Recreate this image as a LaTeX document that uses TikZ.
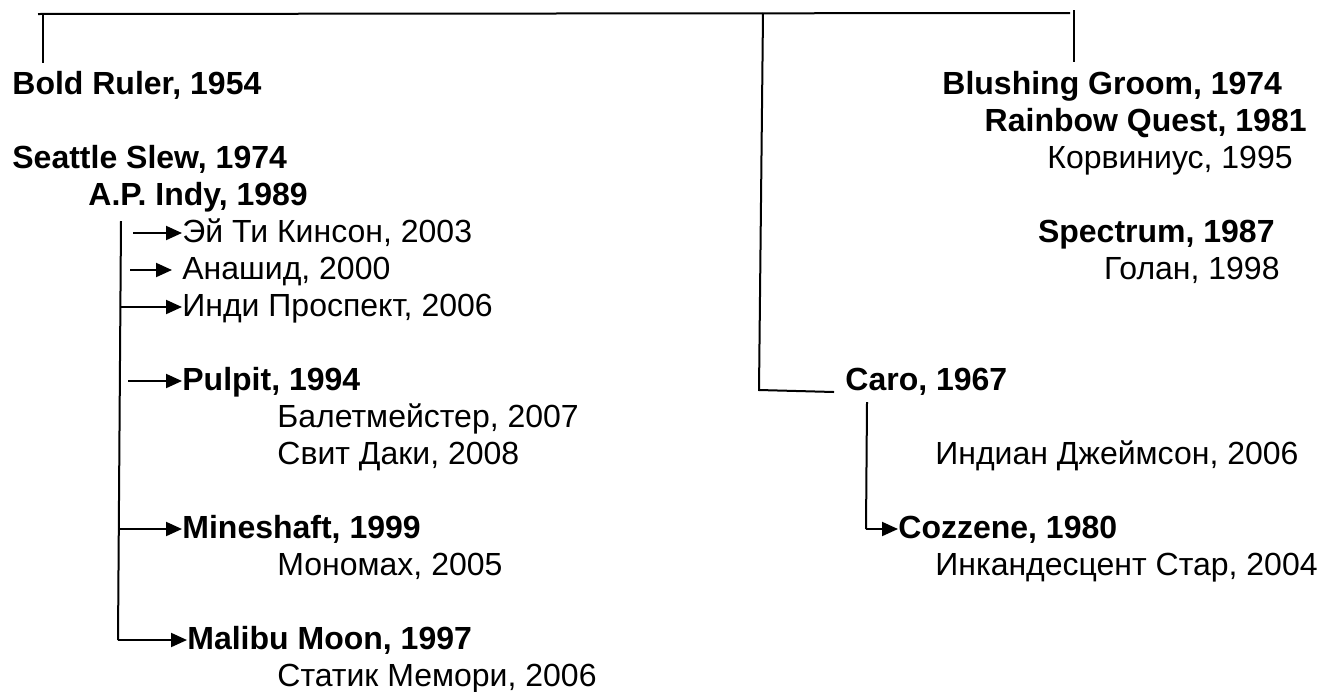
\documentclass[tikz,border=0pt]{standalone}
\usepackage{fontspec}
\setmainfont{Liberation Sans}
\usetikzlibrary{arrows.meta}

\tikzset{
  sire/.style={anchor=base west, inner sep=0pt, font=\fontsize{16}{19}\selectfont\bfseries},
  foal/.style={anchor=base west, inner sep=0pt, font=\fontsize{16}{19}\selectfont},
  sireR/.style={sire, anchor=base east},
  foalR/.style={foal, anchor=base east},
  line/.style={line width=1pt},
  toarrow/.style={line width=1pt, -{Triangle[length=8pt,width=7pt]}}
}

\begin{document}
\begin{tikzpicture}[x=0.5pt,y=-0.5pt]
  \useasboundingbox (0,0) rectangle (1321,691);
  % left branch
  \node[sire] (boldruler) at (12,94) {Bold Ruler, 1954};
  \node[sire] (seattle) at (12,168) {Seattle Slew, 1974};
  \node[sire] (apindy) at (88,205) {A.P. Indy, 1989};
  \node[foal] (kinson) at (182,242) {Эй Ти Кинсон, 2003};
  \node[foal] (anashid) at (182,279) {Анашид, 2000};
  \node[foal] (prospect) at (182,316) {Инди Проспект, 2006};
  \node[sire] (pulpit) at (182,390) {Pulpit, 1994};
  \node[foal] (balet) at (277,427) {Балетмейстер, 2007};
  \node[foal] (daki) at (277,464) {Свит Даки, 2008};
  \node[sire] (mineshaft) at (182,538) {Mineshaft, 1999};
  \node[foal] (monomakh) at (277,575) {Мономах, 2005};
  \node[sire] (malibu) at (187,649) {Malibu Moon, 1997};
  \node[foal] (statik) at (277,686) {Статик Мемори, 2006};
  % right branch
  \node[sire] (blushing) at (942,94) {Blushing Groom, 1974};
  \node[sireR] (rainbow) at (1307,131) {Rainbow Quest, 1981};
  \node[foalR] (korvinius) at (1293,168) {Корвиниус, 1995};
  \node[sireR] (spectrum) at (1275,242) {Spectrum, 1987};
  \node[foalR] (golan) at (1280,279) {Голан, 1998};
  \node[sire] (caro) at (845,390) {Caro, 1967};
  \node[foal] (indian) at (935,464) {Индиан Джеймсон, 2006};
  \node[sire] (cozzene) at (898,538) {Cozzene, 1980};
  \node[foal] (incand) at (935,575) {Инкандесцент Стар, 2004};

  % top bracket
  \coordinate (topl) at (38,14);
  \coordinate (topr) at (1070,13);
  \coordinate (stubl) at (43,63);
  \coordinate (stubr) at (1074,62);
  \coordinate (midtop) at (763,13);
  \coordinate (midbot) at (759,390);
  \coordinate (caroin) at (834,392);
  \draw[line] (topl) -- (topr);
  \draw[line] (stubl |- topl) -- (stubl);
  \draw[line] (1074,10) -- (stubr);
  \draw[line] (midtop) -- (midbot) -- (caroin);

  % A.P. Indy
  \coordinate (indytop) at (121,221);
  \coordinate (indybot) at (118,640);
  \draw[line] (indytop) -- (indybot);
  \coordinate (a1) at (133,233);
  \coordinate (a2) at (130,270);
  \coordinate (a3) at (120,307);
  \coordinate (a4) at (128,381);
  \coordinate (a5) at (119,529);
  \draw[toarrow] (a1) -- (a1 -| kinson.west);
  \draw[toarrow] (a2) -- (172,270);
  \draw[toarrow] (a3) -- (a3 -| prospect.west);
  \draw[toarrow] (a4) -- (a4 -| pulpit.west);
  \draw[toarrow] (a5) -- (a5 -| mineshaft.west);
  \draw[toarrow] (indybot) -- (indybot -| malibu.west);

  % Caro
  \coordinate (carotop) at (867,402);
  \coordinate (carobot) at (866,529);
  \draw[line] (carotop) -- (carobot);
  \draw[toarrow] (carobot) -- (carobot -| cozzene.west);
\end{tikzpicture}
\end{document}
